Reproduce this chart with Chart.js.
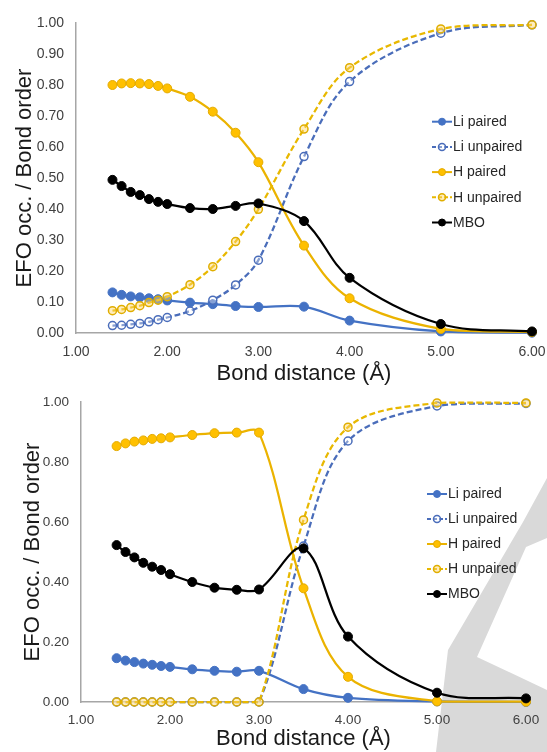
<!DOCTYPE html>
<html>
<head>
<meta charset="utf-8">
<script src="https://cdn.jsdelivr.net/npm/chart.js@4"></script>
<style>
  body { margin: 0; background: #fff; }
  #wrap { position: relative; width: 547px; height: 752px; overflow: hidden; }
  #wm { position: absolute; left: 0; top: 0; }
  #chartTop { position: absolute; left: 0; top: 0; }
  #chartBottom { position: absolute; left: 0; top: 385px; }
</style>
</head>
<body>
<div id="wrap">
  <svg id="wm" width="547" height="752">
    <path fill-rule="evenodd" fill="#d9d9d9"
      d="M547,478 L547,752 L436,752 L448,650 L523,522 Z M526,547 L547,538 L547,690 L477,657 Z"/>
  </svg>
  <canvas id="chartTop" width="547" height="390"></canvas>
  <canvas id="chartBottom" width="547" height="367"></canvas>
</div>
<script>
// bond distances (Å)
const bondDistance = [1.4, 1.5, 1.6, 1.7, 1.8, 1.9, 2.0, 2.25, 2.5, 2.75, 3.0, 3.5, 4.0, 5.0, 6.0];
const seriesNames = ['Li paired', 'Li unpaired', 'H paired', 'H unpaired', 'MBO'];

// top panel
const liPairedTop   = [0.131, 0.123, 0.118, 0.115, 0.112, 0.109, 0.105, 0.098, 0.093, 0.087, 0.084, 0.085, 0.040, 0.005, 0.001];
const liUnpairedTop = [0.024, 0.025, 0.028, 0.031, 0.036, 0.043, 0.050, 0.071, 0.106, 0.155, 0.235, 0.569, 0.811, 0.967, 0.994];
const hPairedTop    = [0.800, 0.805, 0.806, 0.805, 0.803, 0.797, 0.789, 0.762, 0.714, 0.646, 0.551, 0.282, 0.112, 0.013, 0.003];
const hUnpairedTop  = [0.072, 0.076, 0.082, 0.088, 0.098, 0.106, 0.117, 0.156, 0.214, 0.295, 0.399, 0.658, 0.856, 0.981, 0.994];
const mboTop        = [0.494, 0.474, 0.455, 0.445, 0.432, 0.423, 0.416, 0.403, 0.400, 0.410, 0.418, 0.361, 0.178, 0.029, 0.005];

// bottom panel
const liPairedBottom   = [0.146, 0.138, 0.133, 0.128, 0.124, 0.120, 0.117, 0.109, 0.104, 0.101, 0.104, 0.043, 0.014, 0.002, 0.000];
const liUnpairedBottom = [0, 0, 0, 0, 0, 0, 0, 0, 0, 0, 0, 0.520, 0.870, 0.987, 0.995];
const hPairedBottom    = [0.853, 0.862, 0.868, 0.872, 0.877, 0.879, 0.882, 0.890, 0.896, 0.898, 0.898, 0.379, 0.084, 0.002, 0.001];
const hUnpairedBottom  = [0, 0, 0, 0, 0, 0, 0, 0, 0, 0, 0, 0.607, 0.916, 0.997, 0.997];
const mboBottom        = [0.523, 0.500, 0.482, 0.464, 0.451, 0.440, 0.426, 0.400, 0.381, 0.374, 0.375, 0.512, 0.218, 0.031, 0.012];

const xTicks = [1, 2, 3, 4, 5, 6];
const yTicksTop = [0, 0.1, 0.2, 0.3, 0.4, 0.5, 0.6, 0.7, 0.8, 0.9, 1.0];
const yTicksBottom = [0, 0.2, 0.4, 0.6, 0.8, 1.0];

const BLUE = '#4472C4';
const GOLD = '#FFC000';

const styles = [
  { borderColor: BLUE, borderWidth: 2.25, pointRadius: 4.5, pointBackgroundColor: BLUE, pointBorderColor: BLUE, pointBorderWidth: 1, order: 4 },
  { borderColor: '#4A6DBA', borderWidth: 2.25, borderDash: [6, 3], pointRadius: 4, pointBackgroundColor: 'rgba(255,255,255,0.35)', pointBorderColor: '#4A6DBA', pointBorderWidth: 1.5, order: 3 },
  { borderColor: '#EBB300', borderWidth: 2.25, pointRadius: 4.5, pointBackgroundColor: GOLD, pointBorderColor: '#E3AA00', pointBorderWidth: 1, order: 2 },
  { borderColor: '#E8B800', borderWidth: 2.25, borderDash: [6, 3], pointRadius: 4, pointBackgroundColor: 'rgba(255,215,110,0.45)', pointBorderColor: '#E0AE00', pointBorderWidth: 1.5, order: 1 },
  { borderColor: '#000000', borderWidth: 2.25, pointRadius: 4.5, pointBackgroundColor: '#000000', pointBorderColor: '#000000', pointBorderWidth: 1, order: 0 }
];

function buildDatasets(seriesList) {
  return seriesList.map((ys, i) => Object.assign({
    label: seriesNames[i],
    data: bondDistance.map((x, j) => ({ x: x, y: ys[j] })),
    tension: 0.35,
    clip: false,
    pointHoverRadius: 4.5
  }, styles[i]));
}

const seriesLegend = {
  id: 'seriesLegend',
  afterDraw(chart, args, opts) {
    const ctx = chart.ctx;
    chart.data.datasets.forEach((ds, i) => {
      const y = opts.y + i * opts.dy;
      ctx.save();
      ctx.strokeStyle = ds.borderColor;
      ctx.lineWidth = 2;
      ctx.setLineDash(ds.borderDash ? [4, 2] : []);
      ctx.beginPath();
      ctx.moveTo(opts.x, y);
      ctx.lineTo(opts.x + 20, y);
      ctx.stroke();
      ctx.setLineDash([]);
      ctx.beginPath();
      ctx.arc(opts.x + 10, y, 3.5, 0, Math.PI * 2);
      ctx.fillStyle = ds.pointBackgroundColor;
      ctx.fill();
      ctx.lineWidth = ds.pointBorderWidth;
      ctx.strokeStyle = ds.pointBorderColor;
      ctx.stroke();
      ctx.fillStyle = '#262626';
      ctx.font = opts.font;
      ctx.textBaseline = 'middle';
      ctx.fillText(ds.label, opts.x + 21, y + 0.5);
      ctx.restore();
    });
  }
};

function makeChart(id, seriesList, cfg) {
  return new Chart(document.getElementById(id), {
    type: 'line',
    data: { datasets: buildDatasets(seriesList) },
    plugins: [seriesLegend],
    options: {
      responsive: false,
      animation: false,
      layout: { padding: { top: cfg.padTop, right: cfg.padRight, left: 0, bottom: 0 } },
      plugins: {
        legend: { display: false },
        tooltip: { enabled: false },
        seriesLegend: { x: cfg.legendX, y: cfg.legendY, dy: cfg.legendDy, font: '14px "Liberation Sans", Arial, sans-serif' }
      },
      scales: {
        x: {
          type: 'linear',
          min: 1, max: 6,
          afterFit: s => { s.height = cfg.xHeight; s.paddingLeft = 0; s.paddingRight = 0; },
          afterBuildTicks: s => { s.ticks = xTicks.map(v => ({ value: v })); },
          grid: { display: false, drawTicks: false },
          border: { color: '#A6A6A6', width: 1.5 },
          ticks: {
            padding: cfg.xTickPad,
            color: '#404040',
            font: { family: '"Liberation Sans", Arial, sans-serif', size: cfg.tickSize },
            callback: v => v.toFixed(2),
            maxRotation: 0
          },
          title: {
            display: true,
            text: 'Bond distance (Å)',
            color: '#1a1a1a',
            font: { family: '"Liberation Sans", Arial, sans-serif', size: 22 },
            padding: { top: 0, bottom: cfg.xTitlePad }
          }
        },
        y: {
          min: 0, max: 1,
          afterFit: s => { s.width = cfg.yWidth; s.paddingTop = 0; s.paddingBottom = 0; },
          afterBuildTicks: s => { s.ticks = cfg.yTicks.map(v => ({ value: v })); },
          grid: { display: false, drawTicks: false },
          border: { color: '#A6A6A6', width: 1.5 },
          ticks: {
            padding: 12,
            color: '#404040',
            font: { family: '"Liberation Sans", Arial, sans-serif', size: cfg.tickSize },
            callback: v => v.toFixed(2)
          },
          title: {
            display: true,
            text: 'EFO occ. / Bond order',
            color: '#1a1a1a',
            font: { family: '"Liberation Sans", Arial, sans-serif', size: 22 },
            padding: { top: cfg.yTitlePad, bottom: 0 }
          }
        }
      }
    }
  });
}

makeChart('chartTop', [liPairedTop, liUnpairedTop, hPairedTop, hUnpairedTop, mboTop], {
  padTop: 23, padRight: 15, xHeight: 57, yWidth: 76, xTickPad: 11, xTitlePad: 3, yTitlePad: 12,
  tickSize: 14, yTicks: yTicksTop, legendX: 432, legendY: 121.7, legendDy: 25.2
});

makeChart('chartBottom', [liPairedBottom, liUnpairedBottom, hPairedBottom, hUnpairedBottom, mboBottom], {
  padTop: 17, padRight: 21, xHeight: 50, yWidth: 81, xTickPad: 10, xTitlePad: 0, yTitlePad: 20,
  tickSize: 13.5, yTicks: yTicksBottom, legendX: 427, legendY: 109, legendDy: 25
});
</script>
</body>
</html>
